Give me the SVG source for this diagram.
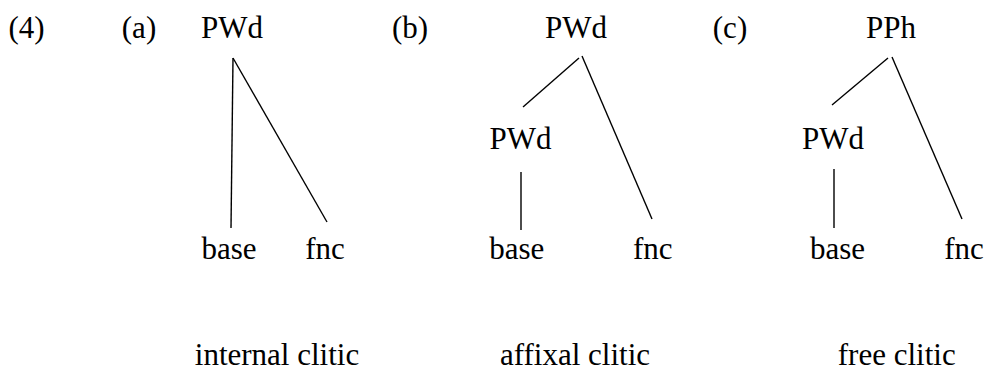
<svg xmlns="http://www.w3.org/2000/svg" width="986" height="372" viewBox="0 0 986 372">
<style>
text{font-family:"Liberation Serif","Times New Roman",serif;font-size:31px;fill:#000;text-anchor:middle}
line{stroke:#000;stroke-width:1.4;fill:none}
</style>
<rect width="986" height="372" fill="#fff"/>
<g id="labels">
<text x="26.5" y="38">(4)</text>
<text x="139" y="38">(a)</text>
<text x="410" y="38">(b)</text>
<text x="730" y="38">(c)</text>
</g>
<g id="a-root"><text x="232" y="38">PWd</text></g>
<g id="a-base"><text x="229" y="259">base</text></g>
<g id="a-fnc"><text x="325" y="259">fnc</text></g>
<g id="a-caption"><text x="277" y="365">internal clitic</text></g>
<g id="b-root"><text x="576" y="38">PWd</text></g>
<g id="b-pwd"><text x="520.5" y="149">PWd</text></g>
<g id="b-base"><text x="516.7" y="259">base</text></g>
<g id="b-fnc"><text x="652.8" y="259">fnc</text></g>
<g id="b-caption"><text x="575" y="365">affixal clitic</text></g>
<g id="c-root"><text x="891" y="38">PPh</text></g>
<g id="c-pwd"><text x="833" y="149">PWd</text></g>
<g id="c-base"><text x="837.5" y="259">base</text></g>
<g id="c-fnc"><text x="964" y="259">fnc</text></g>
<g id="c-caption"><text x="896.7" y="365">free clitic</text></g>
<g id="connectors">
<line x1="233" y1="58" x2="231" y2="228"/>
<line x1="233" y1="58" x2="327" y2="222"/>
<line x1="579" y1="58" x2="523" y2="107"/>
<line x1="582" y1="56" x2="652" y2="219"/>
<line x1="521" y1="172" x2="521" y2="230"/>
<line x1="888" y1="58" x2="832" y2="105"/>
<line x1="892" y1="57" x2="962" y2="219"/>
<line x1="834" y1="169" x2="834" y2="228"/>
</g>
</svg>
